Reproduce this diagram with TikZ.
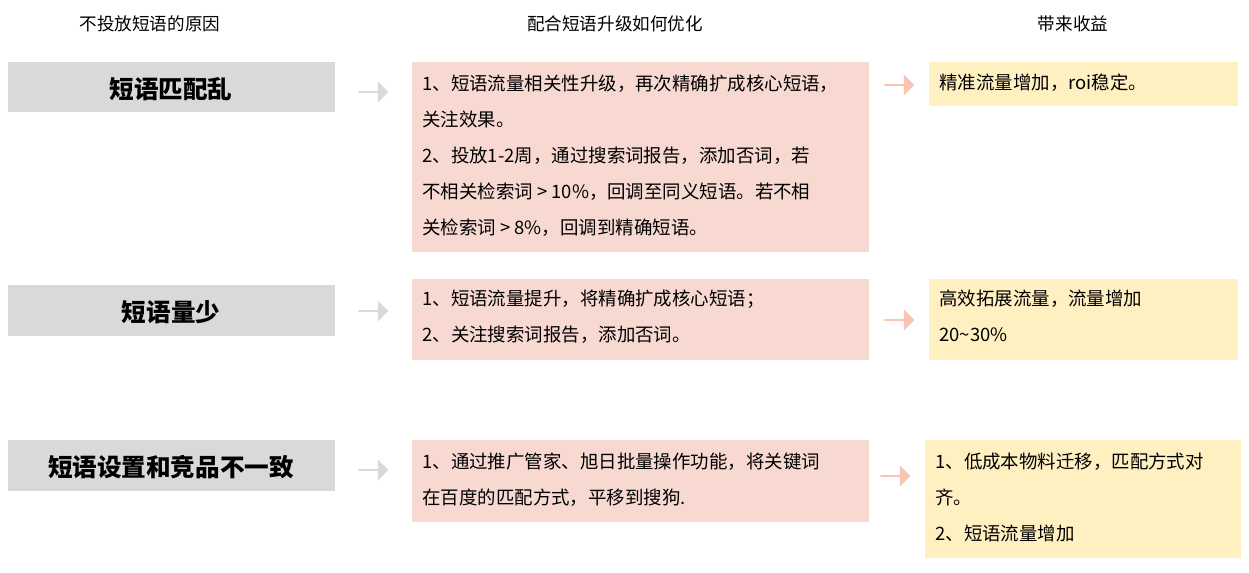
\documentclass[tikz,border=0pt]{standalone}
\usepackage{fontspec}
\setmainfont{Noto Sans CJK SC}
\usetikzlibrary{shapes.arrows,positioning}
\definecolor{graybox}{HTML}{D9D9D9}
\definecolor{pinkbox}{HTML}{F8D9D2}
\definecolor{pinkarrow}{HTML}{F9C4B3}
\definecolor{yellowbox}{HTML}{FFF0C2}
\tikzset{
  headtext/.style={font=\fontsize{10}{12}\selectfont},
  issue/.style={fill=graybox, font=\bfseries\fontsize{14}{16}\selectfont},
  body/.style={anchor=north west, align=left, inner sep=0pt, font=\fontsize{10.5}{20.5}\selectfont},
  grayarrow/.style={single arrow, fill=graybox, minimum width=0.42cm, single arrow head extend=0.08cm, minimum height=0.6cm, inner sep=0pt},
  pinkarrowshape/.style={single arrow, fill=pinkarrow, minimum width=0.42cm, single arrow head extend=0.08cm, minimum height=0.6cm, inner sep=0pt}
}
\begin{document}
\begin{tikzpicture}[x=0.02cm,y=-0.02cm]
\useasboundingbox (0,0) rectangle (1249,573);
% column headings
\node[headtext] (h1) at (150,24) {不投放短语的原因};
\node[headtext] (h2) at (615,24) {配合短语升级如何优化};
\node[headtext] (h3) at (1073,24) {带来收益};

% left grey boxes
\fill[graybox] (8,62) rectangle (335,112);
\node[font=\bfseries\fontsize{14}{16}\selectfont] (r1) at (171,89) {短语匹配乱};
\fill[graybox] (8,285) rectangle (335,336);
\node[font=\bfseries\fontsize{14}{16}\selectfont] (r2) at (171,312) {短语量少};
\fill[graybox] (8,440) rectangle (335,491);
\node[font=\bfseries\fontsize{14}{16}\selectfont] (r3) at (171,467) {短语设置和竞品不一致};

% grey arrows
\node[grayarrow] (g1) at (373,92) {};
\node[grayarrow] (g2) at (373,311) {};
\node[grayarrow] (g3) at (373,470) {};

% pink boxes
\fill[pinkbox] (412,62) rectangle (869,252);
\node[body] (p1) at (422,75) {1、短语流量相关性升级，再次精确扩成核心短语，\\关注效果。\\2、投放1-2周，通过搜索词报告，添加否词，若\\不相关检索词 > 10\%，回调至同义短语。若不相\\关检索词 > 8\%，回调到精确短语。};
\fill[pinkbox] (412,279) rectangle (869,360);
\node[body] (p2) at (422,290) {1、短语流量提升，将精确扩成核心短语；\\2、关注搜索词报告，添加否词。};
\fill[pinkbox] (412,440) rectangle (869,522);
\node[body] (p3) at (422,453) {1、通过推广管家、旭日批量操作功能，将关键词\\在百度的匹配方式，平移到搜狗.};

% pink arrows
\node[pinkarrowshape] (a1) at (899,85) {};
\node[pinkarrowshape] (a2) at (899,320) {};
\node[pinkarrowshape] (a3) at (895,476) {};

% yellow boxes
\fill[yellowbox] (929,62) rectangle (1238,106);
\node[body] (y1) at (939,74) {精准流量增加，roi稳定。};
\fill[yellowbox] (929,279) rectangle (1238,360);
\node[body] (y2) at (939,290) {高效拓展流量，流量增加\\20\textasciitilde30\%};
\fill[yellowbox] (925,440) rectangle (1241,558);
\node[body] (y3) at (935,453) {1、低成本物料迁移，匹配方式对\\齐。\\2、短语流量增加};
\end{tikzpicture}
\end{document}
